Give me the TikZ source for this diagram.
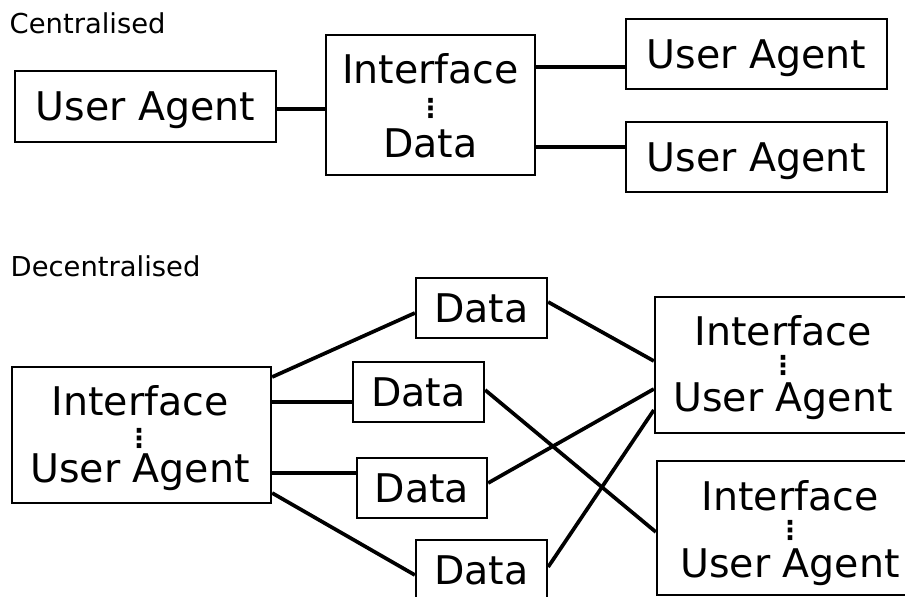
\documentclass[tikz,border=0pt]{standalone}
\usepackage{fontspec}
\setmainfont{DejaVu Sans}
\newcommand\boxfont{\fontsize{39.5}{46}\selectfont}
\newcommand\headfont{\fontsize{27.4}{32}\selectfont}
\newcommand\sepfont{\fontsize{26}{30}\selectfont\bfseries}
\tikzset{
  box/.style={draw, line width=2.3pt, inner sep=0pt, font=\boxfont,
              text height=28.8pt, text depth=0pt},
  line/.style={line width=3.7pt},
  txt/.style={inner sep=0pt, font=\boxfont, anchor=base},
  sep/.style={inner sep=0pt, font=\sepfont, anchor=center},
  head/.style={inner sep=0pt, font=\headfont, anchor=base west},
}
\begin{document}
\begin{tikzpicture}[x=1pt, y=-1pt]
\useasboundingbox (0,0) rectangle (905,597);
\clip (0,0) rectangle (905,597);

% ---------- centralised ----------
\node[head] (hc) at (9.5,33) {Centralised};

\node[box, minimum width=261pt, minimum height=71pt] (ua0) at (145.5,106.5) {User Agent};
\node[box, minimum width=209pt, minimum height=140pt] (ifd) at (430.5,105) {};
\node[txt] (ifdA) at (430.5,83) {Interface};
\node[sep] (ifdS) at (430.5,108.5) {⋮};
\node[txt] (ifdB) at (430.5,157) {Data};
\node[box, minimum width=261pt, minimum height=70pt] (ua1) at (756.5,54) {User Agent};
\node[box, minimum width=261pt, minimum height=70pt] (ua2) at (756.5,157) {User Agent};

\draw[line] ([yshift=-2.5pt]ua0.east) -- ([yshift=-2.5pt]ua0.east -| ifd.west);
\draw[line] ([yshift=38pt]ifd.east) -- ([yshift=38pt]ifd.east -| ua1.west);
\draw[line] ([yshift=-42pt]ifd.east) -- ([yshift=-42pt]ifd.east -| ua2.west);

% ---------- decentralised ----------
\node[head] (hd) at (10.5,276) {Decentralised};

\node[box, minimum width=259pt, minimum height=136pt] (L) at (141.5,435) {};
\node[txt] (LA) at (140,415) {Interface};
\node[sep] (LS) at (139,438.5) {⋮};
\node[txt] (LB) at (140,482) {User Agent};

\node[box, minimum width=131pt, minimum height=60pt] (d1) at (481.5,308) {Data};
\node[box, minimum width=131pt, minimum height=60pt] (d2) at (418.5,392) {Data};
\node[box, minimum width=130pt, minimum height=60pt] (d3) at (422,488) {Data};
\node[box, minimum width=131pt, minimum height=60pt] (d4) at (481.5,570) {Data};

\node[box, minimum width=256pt, minimum height=136pt] (r1) at (783,365) {};
\node[txt] (r1A) at (783,345) {Interface};
\node[sep] (r1S) at (783,365) {⋮};
\node[txt] (r1B) at (783,411) {User Agent};

\node[box, minimum width=266pt, minimum height=134pt] (r2) at (790,528) {};
\node[txt] (r2A) at (790,510) {Interface};
\node[sep] (r2S) at (790,530) {⋮};
\node[txt] (r2B) at (790,577) {User Agent};

\draw[line] ([yshift=58pt]L.east) -- ([yshift=-5pt]d1.west);
\draw[line] ([yshift=33pt]L.east) -- ([yshift=-10pt]d2.west);
\draw[line] ([yshift=-38pt]L.east) -- ([yshift=15pt]d3.west);
\draw[line] ([yshift=-58pt]L.east) -- ([yshift=-5pt]d4.west);

\draw[line] ([yshift=6pt]d1.east) -- ([yshift=4pt]r1.west);
\draw[line] ([yshift=5pt]d3.east) -- ([yshift=-24pt]r1.west);
\draw[line] ([yshift=3pt]d4.east) -- ([yshift=-45pt]r1.west);
\draw[line] ([yshift=2pt]d2.east) -- ([yshift=-4pt]r2.west);
\end{tikzpicture}
\end{document}
